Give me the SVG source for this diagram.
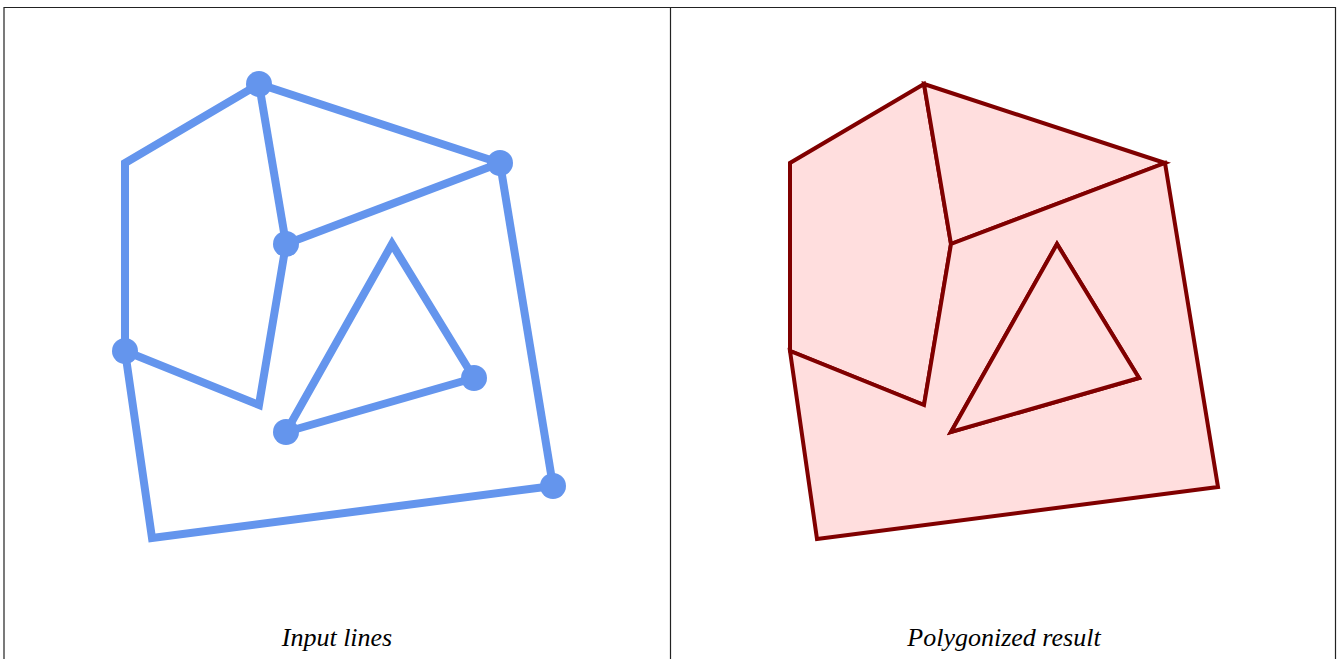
<svg xmlns="http://www.w3.org/2000/svg" width="1341" height="659" viewBox="0 0 1341 659">
<style>
.frame{fill:none;stroke:#222;stroke-width:1.2}
.in{fill:none;stroke:#6495ED;stroke-width:8;stroke-linejoin:miter;stroke-linecap:butt}
.dot{fill:#6495ED}
.poly{fill:#FFDEDE;stroke:#800000;stroke-width:4;stroke-linejoin:miter;fill-rule:evenodd}
.lbl{font-family:"Liberation Serif","DejaVu Serif",serif;font-style:italic;font-size:26px;fill:#000;text-anchor:middle}
</style>
<rect width="1341" height="659" fill="#fff"/>
<g id="frame">
<path class="frame" d="M4,659 V7.5 H1335.5 V659 M670.5,7.5 V659"/>
</g>
<g id="connectors">
<polyline class="in" points="259,84 125,163 125,351"/>
<polyline class="in" points="125,351 259,405 286,244"/>
<line class="in" x1="259" y1="84" x2="286" y2="244"/>
<line class="in" x1="259" y1="84" x2="500" y2="163"/>
<line class="in" x1="286" y1="244" x2="500" y2="163"/>
<line class="in" x1="500" y1="163" x2="553" y2="486"/>
<polyline class="in" points="125,351 152,538 553,486"/>
<polyline class="in" points="286,432 392,244 474,378"/>
<line class="in" x1="286" y1="432" x2="474" y2="378"/>
</g>
<g id="input-nodes">
<circle class="dot" cx="259" cy="84" r="13"/>
<circle class="dot" cx="125" cy="351" r="13"/>
<circle class="dot" cx="286" cy="244" r="13"/>
<circle class="dot" cx="500" cy="163" r="13"/>
<circle class="dot" cx="553" cy="486" r="13"/>
<circle class="dot" cx="474" cy="378" r="13"/>
<circle class="dot" cx="286" cy="432" r="13"/>
</g>
<g id="result" transform="translate(665,0)">
<polygon id="poly-left" class="poly" points="259,84 125,163 125,351 259,405 286,244"/>
<polygon id="poly-top" class="poly" points="259,84 500,163 286,244"/>
<path id="poly-outer" class="poly" d="M125,351 L152,539 L553,487 L500,163 L286,244 L259,405 Z M286,432 L392,244 L474,378 Z"/>
<polygon id="poly-tri" class="poly" points="286,432 392,244 474,378"/>
</g>
<g id="labels">
<text class="lbl" x="337" y="646">Input lines</text>
<text class="lbl" x="1004" y="646">Polygonized result</text>
</g>
</svg>
